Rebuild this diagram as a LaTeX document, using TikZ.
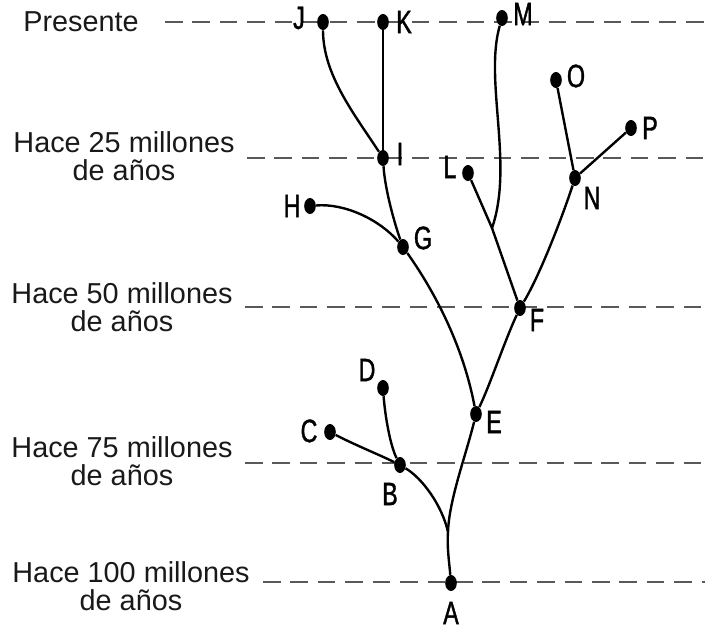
\documentclass[tikz,border=0pt]{standalone}
\usepackage{fontspec}
\setmainfont{Liberation Sans}
\newfontfamily\narrowsans[FakeStretch=0.72, FakeBold=1.2]{Liberation Sans}
\usetikzlibrary{shapes.geometric}

\begin{document}
\begin{tikzpicture}[x=0.025cm, y=-0.025cm,
  era/.style={font=\fontsize{20.5}{19.5}\selectfont, align=center, inner sep=0pt, text=black!90},
  guide/.style={draw=black!65, line width=1.3pt, dash pattern=on 12.5pt off 7pt},
  dot/.style={ellipse, fill=black, inner sep=0pt, minimum width=0.29cm, minimum height=0.4cm},
  tag/.style={font=\narrowsans\fontsize{23}{23}\selectfont, inner sep=0pt},
  branch/.style={line width=1.7pt}]
  \useasboundingbox (0,0) rectangle (705,633);
  % time levels
  \node[era] (t0) at (81,22) {Presente};
  \node[era] (t25) at (124,156) {Hace 25 millones\\de años};
  \node[era] (t50) at (122,307) {Hace 50 millones\\de años};
  \node[era] (t75) at (122,461) {Hace 75 millones\\de años};
  \node[era] (t100) at (131,586) {Hace 100 millones\\de años};
  \foreach \x/\y in {165/22, 247/158, 245/307, 245/463, 263/582}
    \draw[guide] (\x,\y) -- (705,\y);
  % species and ancestors
  \foreach \n/\x/\y/\lx/\ly in {A/451/583/451/613, B/400/465/390/494, C/330/432/309/431,
      D/383/388/367/370, E/476/414/494/422, F/520/308/537/320, G/403/247/423/238,
      H/310/206/292/206, I/383/158/400/154, J/323/22/299/18, K/383/22/404/22,
      L/468/173/450/167, M/502/18/523/14, N/575/178/592/198, O/556/80/576/76,
      P/631/128/650/128}
  {
    \node[dot] (\n) at (\x,\y) {};
    \node[tag] (tag\n) at (\lx,\ly) {\n};
  }
  \coordinate (ab) at (448,532);
  \coordinate (lm) at (492,228);
  % branches
  \draw[branch] (A) .. controls (449,560) and (447,548) .. (ab);
  \draw[branch] (ab) .. controls (442,505) and (422,478) .. (B);
  \draw[branch] (ab) .. controls (449,500) and (466,455) .. (E);
  \draw[branch] (C) .. controls (355,445) and (380,455) .. (B);
  \draw[branch] (D) .. controls (385,415) and (390,445) .. (B);
  \draw[branch] (E) .. controls (462,340) and (430,285) .. (G);
  \draw[branch] (E) .. controls (490,385) and (505,340) .. (F);
  \draw[branch] (F) .. controls (540,275) and (563,215) .. (N);
  \draw[branch] (F) -- (lm) -- (L);
  \draw[branch] (lm) .. controls (514,165) and (484,80) .. (M);
  \draw[branch] (H) .. controls (345,203) and (380,220) .. (G);
  \draw[branch] (G) .. controls (395,225) and (385,190) .. (I);
  \draw[branch] (I) .. controls (355,115) and (323,75) .. (J);
  \draw[branch] (I) -- (K);
  \draw[branch] (N) -- (O);
  \draw[branch] (N) -- (P);
\end{tikzpicture}
\end{document}
